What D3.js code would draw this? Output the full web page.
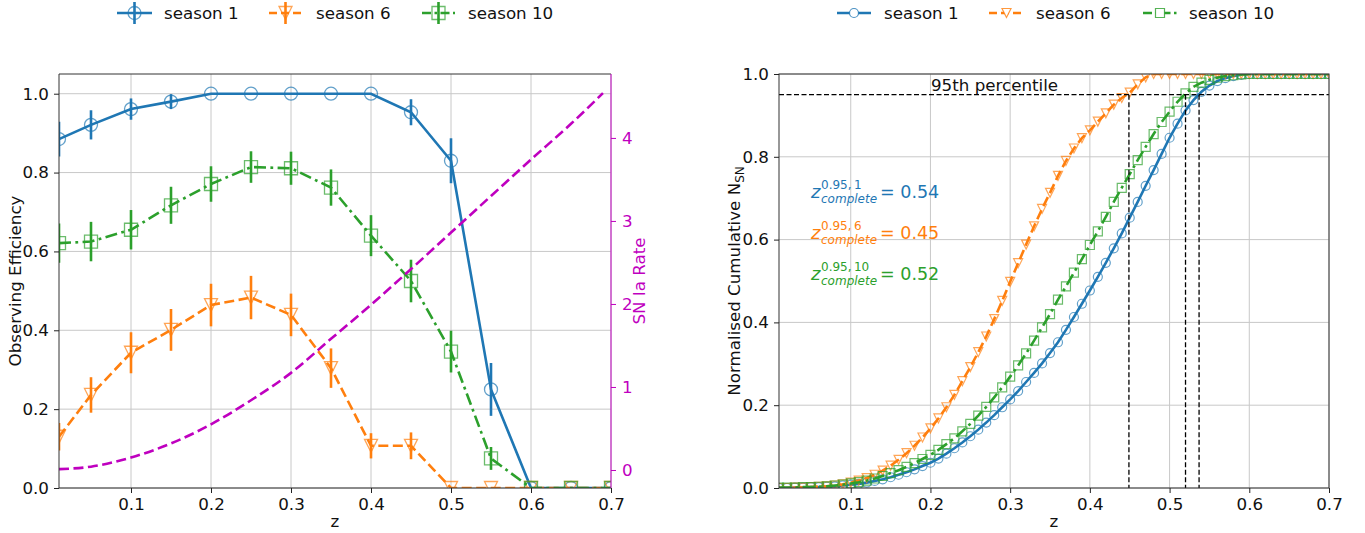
<!DOCTYPE html>
<html><head><meta charset="utf-8">
<script src="https://cdn.jsdelivr.net/npm/d3@7"></script>
<style>body{margin:0;background:#fff} text{font-family:"DejaVu Sans",sans-serif}</style>
</head><body><svg id="c" width="1365" height="533"></svg>
<script>
// ---------------- data ----------------
const seasons = ['season 1','season 6','season 10'];
const effZ = [0.01,0.05,0.10,0.15,0.20,0.25,0.30,0.35,0.40,0.45,0.50,0.55,0.60,0.65,0.70];
const eff1 = [0.885,0.921,0.961,0.980,1,1,1,1,1,0.953,0.830,0.250,0,0,0];
const err1 = [0.044,0.037,0.027,0.019,0,0,0,0,0,0.033,0.057,0.067,0,0,0];
const eff6 = [0.130,0.236,0.343,0.401,0.464,0.483,0.439,0.304,0.107,0.107,0,0,0,0,0];
const err6 = [0.035,0.045,0.052,0.053,0.054,0.055,0.054,0.050,0.032,0.034,0,0,0,0,0];
const eff10 = [0.621,0.625,0.655,0.717,0.771,0.814,0.811,0.762,0.640,0.525,0.346,0.075,0,0,0];
const err10 = [0.050,0.050,0.050,0.047,0.045,0.040,0.042,0.046,0.052,0.054,0.053,0.029,0,0,0];
const rateZ = [0.01,0.05,0.10,0.15,0.20,0.25,0.30,0.35,0.40,0.45,0.50,0.55,0.60,0.65,0.69];
const rateVals = [0.01,0.04,0.15,0.32,0.55,0.84,1.17,1.58,1.99,2.42,2.86,3.30,3.74,4.17,4.54];

const cumZ = [0.01,0.02,0.03,0.04,0.05,0.06,0.07,0.08,0.09,0.10,
  0.11,0.12,0.13,0.14,0.15,0.16,0.17,0.18,0.19,0.20,
  0.21,0.22,0.23,0.24,0.25,0.26,0.27,0.28,0.29,0.30,
  0.31,0.32,0.33,0.34,0.35,0.36,0.37,0.38,0.39,0.40,
  0.41,0.42,0.43,0.44,0.45,0.46,0.47,0.48,0.49,0.50,
  0.51,0.52,0.53,0.54,0.55,0.56,0.57,0.58,0.59,0.60,
  0.61,0.62,0.63,0.64,0.65,0.66,0.67,0.68,0.69,0.70];
const cum1 = [0,0,0.001,0.001,0.002,0.002,0.003,0.004,0.006,0.008,
  0.010,0.013,0.017,0.021,0.026,0.032,0.038,0.045,0.053,0.061,
  0.071,0.083,0.096,0.110,0.125,0.141,0.158,0.176,0.195,0.214,
  0.234,0.256,0.278,0.301,0.326,0.352,0.382,0.413,0.445,0.477,
  0.510,0.544,0.579,0.615,0.653,0.691,0.730,0.768,0.807,0.846,
  0.880,0.912,0.937,0.957,0.972,0.983,0.990,0.995,0.998,1,
  1,1,1,1,1,1,1,1,1,1];
const cum6 = [0,0,0.001,0.001,0.002,0.003,0.004,0.006,0.009,0.013,
  0.018,0.024,0.032,0.042,0.054,0.068,0.084,0.102,0.122,0.144,
  0.168,0.195,0.225,0.258,0.292,0.328,0.366,0.408,0.452,0.498,
  0.543,0.588,0.632,0.674,0.713,0.754,0.790,0.820,0.845,0.864,
  0.885,0.905,0.926,0.942,0.955,0.975,0.992,1,1,1,
  1,1,1,1,1,1,1,1,1,1,
  1,1,1,1,1,1,1,1,1,1];
const cum10 = [0.001,0.001,0.001,0.002,0.002,0.003,0.004,0.006,0.008,0.011,
  0.014,0.018,0.023,0.029,0.036,0.043,0.051,0.060,0.070,0.080,
  0.092,0.106,0.120,0.137,0.155,0.175,0.196,0.219,0.243,0.269,
  0.296,0.325,0.356,0.388,0.420,0.455,0.487,0.520,0.553,0.587,
  0.620,0.655,0.691,0.725,0.758,0.792,0.824,0.855,0.884,0.909,
  0.933,0.953,0.969,0.979,0.986,0.991,0.995,0.997,0.999,1,
  1,1,1,1,1,1,1,1,1,1];
const pctLevel = 0.95;
const pctZ = [0.449, 0.520, 0.537];
const annSeason = ['1','6','10'];
const annValue = ['0.54','0.45','0.52'];
const xTicks = [0.1,0.2,0.3,0.4,0.5,0.6,0.7];
const yTicksL = [0,0.2,0.4,0.6,0.8,1.0];
const yTicksRate = [0,1,2,3,4];
const yTicksC = [0,0.2,0.4,0.6,0.8,1.0];

// ---------------- style ----------------
const COLORS = ['#1f77b4','#ff7f0e','#2ca02c'];
const MAG = '#bf00bf';
const MARK = ['circle','tri','square'];
const DASH = [null,'10,4.5','12,4.4,2.8,4.4'];
const FS = 16.7;
const LW = 2.6;

const svg = d3.select('#c');
const xL = d3.scaleLinear().domain([0.01,0.7]).range([59,611]);
const yL = d3.scaleLinear().domain([0,1.05]).range([488,74]);
const yRate = d3.scaleLinear().domain([-0.217,4.77]).range([488,74]);
const xC = d3.scaleLinear().domain([0.01,0.7]).range([779,1329]);
const yC = d3.scaleLinear().domain([0,1]).range([488,74]);

const defs = svg.append('defs');
function clip(id, x, y){
  defs.append('clipPath').attr('id',id).append('rect')
    .attr('x',x.range()[0]).attr('y',y.range()[1])
    .attr('width',x.range()[1]-x.range()[0]).attr('height',y.range()[0]-y.range()[1]);
}
clip('clipL', xL, yL); clip('clipC', xC, yC);

function markerPath(type, s){
  const h = s/2;
  if(type==='circle') return `M${h},0A${h},${h},0,1,1,${-h},0A${h},${h},0,1,1,${h},0Z`;
  if(type==='square') return `M${-h},${-h}H${h}V${h}H${-h}Z`;
  return `M0,${h}L${-h},${-h}L${h},${-h}Z`;
}

function grid(g, x, y, xt, yt){
  const [x0,x1] = x.range(), [y0,y1] = y.range();
  g.append('g').selectAll('line').data(xt).join('line')
    .attr('x1',d=>x(d)).attr('x2',d=>x(d)).attr('y1',y0).attr('y2',y1)
    .attr('stroke','#c8c8c8').attr('stroke-width',1);
  g.append('g').selectAll('line').data(yt).join('line')
    .attr('y1',d=>y(d)).attr('y2',d=>y(d)).attr('x1',x0).attr('x2',x1)
    .attr('stroke','#c8c8c8').attr('stroke-width',1);
}
function styleAxis(a, color){
  a.select('.domain').remove();
  a.selectAll('.tick line').attr('stroke',color||'#222').attr('stroke-width',1);
  a.selectAll('.tick text').attr('fill',color||'#111').style('font-size',FS+'px')
   .style('font-family','"DejaVu Sans", sans-serif');
}

// ================= LEFT PANEL =================
const L = svg.append('g');
grid(L, xL, yL, xTicks, yTicksL);
const LP = L.append('g').attr('clip-path','url(#clipL)');

const effSeries = [eff1, eff6, eff10].map((vals,i)=>({
  i, pts: effZ.map((z,k)=>({z, v: vals[k], e: [err1,err6,err10][i][k]}))
}));
const lineL = d3.line().x(d=>xL(d.z)).y(d=>yL(d.v));
effSeries.forEach(s=>{
  const g = LP.append('g');
  g.append('path').attr('d',lineL(s.pts)).attr('fill','none')
    .attr('stroke',COLORS[s.i]).attr('stroke-width',LW)
    .attr('stroke-dasharray',DASH[s.i]);
  g.selectAll('line.err').data(s.pts.filter(d=>d.e>0)).join('line')
    .attr('x1',d=>xL(d.z)).attr('x2',d=>xL(d.z))
    .attr('y1',d=>yL(d.v-d.e)).attr('y2',d=>yL(d.v+d.e))
    .attr('stroke',COLORS[s.i]).attr('stroke-width',LW);
  g.selectAll('path.mk').data(s.pts).join('path')
    .attr('transform',d=>`translate(${xL(d.z)},${yL(d.v)})`)
    .attr('d',markerPath(MARK[s.i],13)).attr('fill','none')
    .attr('stroke',COLORS[s.i]).attr('stroke-opacity',0.7).attr('stroke-width',1.3);
});

// rate curve (twin axis)
const rateLine = d3.line().x(d=>xL(d[0])).y(d=>yRate(d[1])).curve(d3.curveMonotoneX);
LP.append('path').attr('d',rateLine(rateZ.map((z,k)=>[z,rateVals[k]])))
  .attr('fill','none').attr('stroke',MAG).attr('stroke-width',LW).attr('stroke-dasharray','10,4.5');

// spines
L.append('path').attr('d',`M${xL.range()[1]},74H59V488H${xL.range()[1]}`).attr('fill','none').attr('stroke','#333').attr('stroke-width',1);
L.append('line').attr('x1',xL.range()[1]).attr('x2',xL.range()[1]).attr('y1',74).attr('y2',488).attr('stroke',MAG).attr('stroke-width',1);

// axes
const axLx = L.append('g').attr('transform','translate(0,488)')
  .call(d3.axisBottom(xL).tickValues(xTicks).tickFormat(d3.format('.1f')).tickSize(5).tickPadding(5));
styleAxis(axLx);
const axLy = L.append('g').attr('transform','translate(59,0)')
  .call(d3.axisLeft(yL).tickValues(yTicksL).tickFormat(d3.format('.1f')).tickSize(5).tickPadding(5));
styleAxis(axLy);
const axR = L.append('g').attr('transform',`translate(${xL.range()[1]},0)`)
  .call(d3.axisRight(yRate).tickValues(yTicksRate).tickFormat(d3.format('d')).tickSize(5).tickPadding(6));
styleAxis(axR, MAG);

L.append('text').attr('transform','translate(21,281) rotate(-90)').attr('text-anchor','middle')
  .style('font-size',FS+'px').attr('fill','#111').text('Observing Efficiency');
L.append('text').attr('transform','translate(645,281) rotate(-90)').attr('text-anchor','middle')
  .style('font-size',FS+'px').attr('fill',MAG).text('SN Ia Rate');
L.append('text').attr('x',335).attr('y',527).attr('text-anchor','middle')
  .style('font-size',FS+'px').attr('fill','#111').text('z');

// left legend
const legL = [[117,152,164],[269,302,316],[422,455,468]];
seasons.forEach((name,i)=>{
  const [a,b,t] = legL[i], cy = 13, cx = (a+b)/2;
  const g = L.append('g');
  g.append('line').attr('x1',a).attr('x2',b).attr('y1',cy).attr('y2',cy)
    .attr('stroke',COLORS[i]).attr('stroke-width',LW).attr('stroke-dasharray',i==1?'8,4':(i==2?'9,3.5,2.5,3.5':null));
  g.append('line').attr('x1',cx).attr('x2',cx).attr('y1',cy-11).attr('y2',cy+11)
    .attr('stroke',COLORS[i]).attr('stroke-width',LW);
  g.append('path').attr('transform',`translate(${cx},${cy})`).attr('d',markerPath(MARK[i],13))
    .attr('fill','none').attr('stroke',COLORS[i]).attr('stroke-opacity',0.7).attr('stroke-width',1.3);
  g.append('text').attr('x',t).attr('y',cy+6).style('font-size',FS+'px').attr('fill','#111').text(name);
});

// ================= RIGHT PANEL =================
const R = svg.append('g');
grid(R, xC, yC, xTicks, yTicksC);
const RP = R.append('g').attr('clip-path','url(#clipC)');

const lineC = d3.line().x(d=>xC(d.z)).y(d=>yC(d.v));
[cum1,cum6,cum10].forEach((vals,i)=>{
  const pts = cumZ.map((z,k)=>({z, v: vals[k]}));
  const g = RP.append('g');
  g.append('path').attr('d',lineC(pts)).attr('fill','none')
    .attr('stroke',COLORS[i]).attr('stroke-width',LW).attr('stroke-dasharray',DASH[i]);
  g.selectAll('path.mk').data(pts).join('path')
    .attr('transform',d=>`translate(${xC(d.z)},${yC(d.v)})`)
    .attr('d',markerPath(MARK[i],9)).attr('fill','none')
    .attr('stroke',COLORS[i]).attr('stroke-opacity',0.7).attr('stroke-width',1.2);
});

// percentile lines
R.append('line').attr('x1',xC.range()[0]).attr('x2',xC.range()[1]).attr('y1',yC(pctLevel)).attr('y2',yC(pctLevel))
  .attr('stroke','#000').attr('stroke-width',1.3).attr('stroke-dasharray','5,2.5');
R.selectAll('line.pv').data(pctZ).join('line')
  .attr('x1',d=>xC(d)).attr('x2',d=>xC(d)).attr('y1',yC(pctLevel)).attr('y2',yC(0))
  .attr('stroke','#000').attr('stroke-width',1.3).attr('stroke-dasharray','5,2.5');
R.append('text').attr('x',931).attr('y',91).style('font-size',FS+'px').attr('fill','#111').text('95th percentile');

// spines
R.append('rect').attr('x',xC.range()[0]).attr('y',74).attr('width',xC.range()[1]-xC.range()[0]).attr('height',414)
  .attr('fill','none').attr('stroke','#333').attr('stroke-width',1);

const axCx = R.append('g').attr('transform','translate(0,488)')
  .call(d3.axisBottom(xC).tickValues(xTicks).tickFormat(d3.format('.1f')).tickSize(5).tickPadding(5));
styleAxis(axCx);
const axCy = R.append('g').attr('transform',`translate(${xC.range()[0]},0)`)
  .call(d3.axisLeft(yC).tickValues(yTicksC).tickFormat(d3.format('.1f')).tickSize(5).tickPadding(5));
styleAxis(axCy);

const yl = R.append('text').attr('transform','translate(740,281) rotate(-90)').attr('text-anchor','middle')
  .style('font-size',FS+'px').attr('fill','#111');
yl.append('tspan').text('Normalised Cumulative N');
yl.append('tspan').attr('dy',4).style('font-size','12px').text('SN');
R.append('text').attr('x',1054).attr('y',527).attr('text-anchor','middle')
  .style('font-size',FS+'px').attr('fill','#111').text('z');

// completeness annotations
annSeason.forEach((s,i)=>{
  const by = 198 + i*41, x0 = 811, c = COLORS[i];
  const g = R.append('g').attr('fill',c);
  g.append('text').attr('x',x0).attr('y',by).style('font-size','18px').style('font-style','italic').text('z');
  const sup = g.append('text').attr('x',x0+10).attr('y',by-9).style('font-size','12px').text('0.95,\u2009'+s);
  const sub = g.append('text').attr('x',x0+10).attr('y',by+5).style('font-size','12px').style('font-style','italic').text('complete');
  const w = Math.max(sup.node().getComputedTextLength(), sub.node().getComputedTextLength());
  g.append('text').attr('x',x0+10+w+3).attr('y',by).style('font-size','17.5px').text('= '+annValue[i]);
});

// right legend
const legR = [[837,871,884],[989,1024,1036],[1143,1177,1189]];
seasons.forEach((name,i)=>{
  const [a,b,t] = legR[i], cy = 13, cx = (a+b)/2;
  const g = R.append('g');
  g.append('line').attr('x1',a).attr('x2',b).attr('y1',cy).attr('y2',cy)
    .attr('stroke',COLORS[i]).attr('stroke-width',LW).attr('stroke-dasharray',i==1?'8,4':(i==2?'9,3.5,2.5,3.5':null));
  g.append('path').attr('transform',`translate(${cx},${cy})`).attr('d',markerPath(MARK[i],9))
    .attr('fill','white').attr('stroke',COLORS[i]).attr('stroke-opacity',0.8).attr('stroke-width',1.2);
  g.append('text').attr('x',t).attr('y',cy+6).style('font-size',FS+'px').attr('fill','#111').text(name);
});
</script></body></html>
